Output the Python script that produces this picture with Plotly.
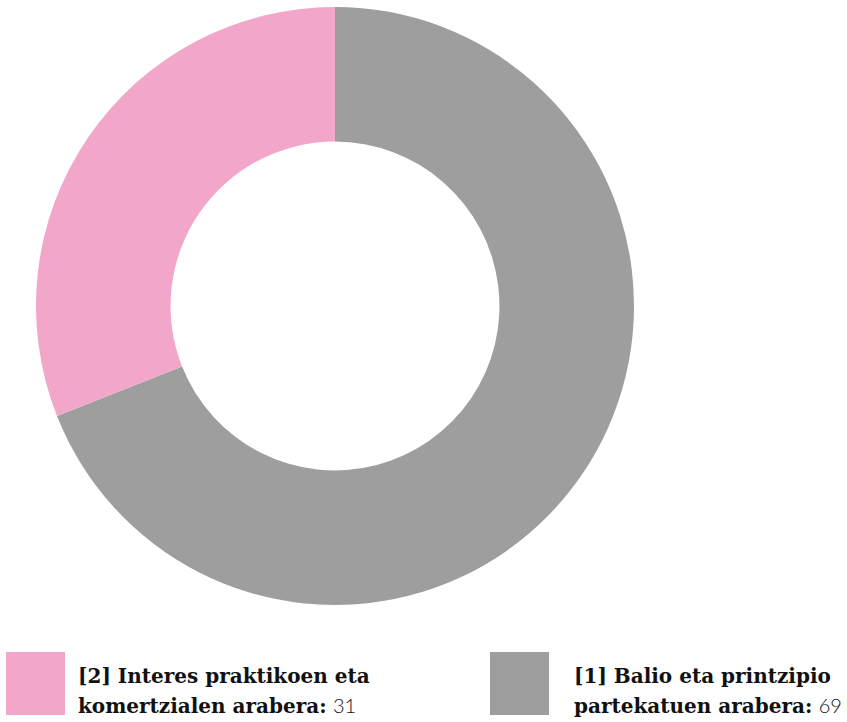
import plotly.graph_objects as go

labels = ["[1] Balio eta printzipio partekatuen arabera", "[2] Interes praktikoen eta komertzialen arabera"]
values = [69, 31]
colors = ["#9E9E9E", "#F2A7CA"]
legend_line1 = ["[1] Balio eta printzipio", "[2] Interes praktikoen eta"]
legend_line2 = ["partekatuen arabera:", "komertzialen arabera:"]

W, H = 847, 722
cx, cy, r = 335, 306, 299

fig = go.Figure(go.Pie(
    labels=labels, values=values, sort=False, direction="clockwise", rotation=0,
    hole=0.55, textinfo="none", hoverinfo="label+value",
    marker=dict(colors=colors, line=dict(width=0)),
    domain=dict(x=[(cx - r) / W, (cx + r) / W], y=[1 - (cy + r) / H, 1 - (cy - r) / H]),
    showlegend=False,
))

# custom legend: pink first (left), gray second (right)
legend_items = [(1, 6, 76), (0, 490, 572)]
shapes = []
annotations = []
for idx, sx, tx in legend_items:
    shapes.append(dict(type="rect", xref="paper", yref="paper",
                       x0=sx / W, x1=(sx + 59) / W, y0=1 - 715 / H, y1=1 - 652 / H,
                       fillcolor=colors[idx], line=dict(width=0)))
    annotations.append(dict(xref="paper", yref="paper", x=tx / W, y=1 - 690 / H,
                            xanchor="left", yanchor="bottom", showarrow=False,
                            text="<b>" + legend_line1[idx] + "</b>",
                            font=dict(family="DejaVu Serif", size=20, color="#111111")))
    annotations.append(dict(xref="paper", yref="paper", x=tx / W, y=1 - 720 / H,
                            xanchor="left", yanchor="bottom", showarrow=False,
                            text="<b>" + legend_line2[idx] + "</b> <span style='font-family:Lato;font-weight:300'>" + str(values[idx]) + "</span>",
                            font=dict(family="DejaVu Serif", size=20, color="#111111")))

fig.update_layout(width=W, height=H, margin=dict(l=0, r=0, t=0, b=0),
                  paper_bgcolor="white", plot_bgcolor="white",
                  shapes=shapes, annotations=annotations)
fig.write_html("out.html", config={"displayModeBar": False},
               post_script="document.body.style.margin='0';document.body.style.overflow='hidden';")
